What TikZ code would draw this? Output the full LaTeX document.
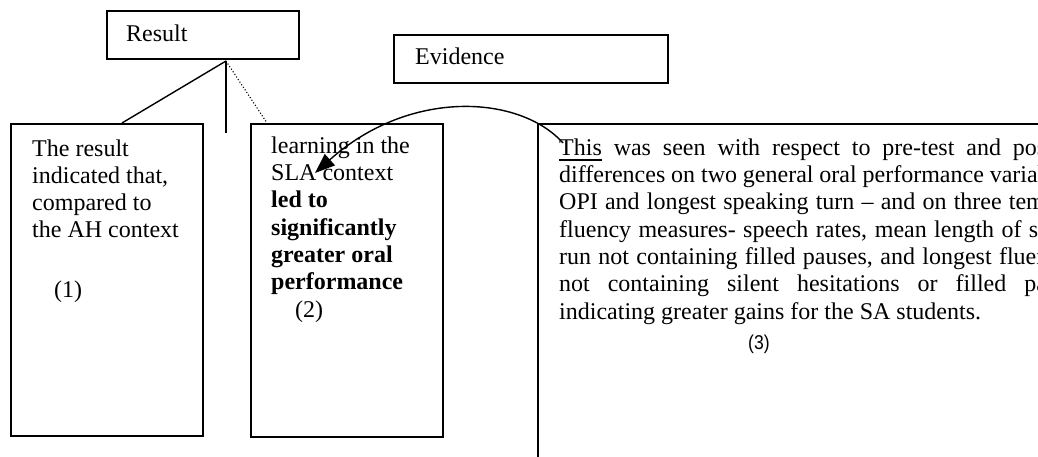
\documentclass[tikz,border=0pt]{standalone}
\usepackage{fontspec}
\setmainfont{Liberation Serif}
\newfontfamily\numfont{Liberation Sans}
\usetikzlibrary{arrows.meta}

% thick underline for a single word
\newcommand\ulword[1]{\setbox0\hbox{#1}\rlap{\rule[-5.5pt]{\wd0}{1.8pt}}\box0\relax}
% one justified line of the evidence paragraph
\newcommand\jline[1]{\makebox[535pt][s]{#1}}

\begin{document}
\begin{tikzpicture}[x=1pt,y=-1pt,
  box/.style={draw, line width=1.6pt, inner sep=0pt, anchor=north west},
  txt/.style={anchor=base west, inner sep=0pt, align=left,
              font=\fontsize{24}{27.3}\selectfont},
  link/.style={line width=1.4pt}]
\useasboundingbox (0,0) rectangle (1038,457);
\clip (0,0) rectangle (1038,457);

% heading boxes
\node[box, minimum width=192pt, minimum height=48pt] (result) at (106,10) {};
\node[box, minimum width=274pt, minimum height=48pt] (evidence) at (393,34) {};
\node[txt] (resultlbl) at (126,42) {Result};
\node[txt] (evidencelbl) at (415,65) {Evidence};

% content boxes
\node[box, minimum width=192pt, minimum height=312pt] (b1) at (10,123) {};
\node[box, minimum width=192pt, minimum height=313pt] (b2) at (250,123) {};
\node[box, minimum width=620pt, minimum height=420pt] (b3) at (537,123) {};

% box texts (base anchor = baseline of the last line)
\node[txt] (t1) at (32,297) {The result\\ indicated that,\\ compared to\\ the AH context\\[31.8pt]\hspace*{22pt}(1)};

\node[txt] (t2) at (271,317) {learning in the\\ SLA context\\ \textbf{led to}\\ \textbf{significantly}\\ \textbf{greater oral}\\ \textbf{performance}\\ \hspace*{24pt}(2)};

\node[txt] (t3) at (559,319) {%
\jline{\ulword{This} was seen with respect to pre-test and post-test}\\
\jline{differences on two general oral performance variables –}\\
\jline{OPI and longest speaking turn – and on three temporal}\\
\jline{fluency measures- speech rates, mean length of speech}\\
\jline{run not containing filled pauses, and longest fluent run}\\
\jline{not containing silent hesitations or filled pauses,}\\
indicating greater gains for the SA students.};
\node[anchor=base west, inner sep=0pt, font=\numfont\fontsize{20}{24}\selectfont,
      xscale=0.88, transform shape] (t3num) at (748,349) {(3)};

% tree connectors under the Result box
\coordinate (hub) at (226,61);
\coordinate (stem) at (226,133);
\coordinate (b1top) at (122,123);
\coordinate (b2top) at (267,123);
\draw[link] (hub) -- (b1top);
\draw[link] (hub) -- (stem);
\draw[line width=1.1pt, dotted] (hub) -- (b2top);

% curved arrow from the evidence text back to box 2
\coordinate (arcstart) at (563,143);
\coordinate (arcend) at (315,173);
\draw[link, -{Triangle[length=20pt,width=15pt]}]
  (arcstart) .. controls (520,95) and (410,88) .. (arcend);
\end{tikzpicture}
\end{document}
